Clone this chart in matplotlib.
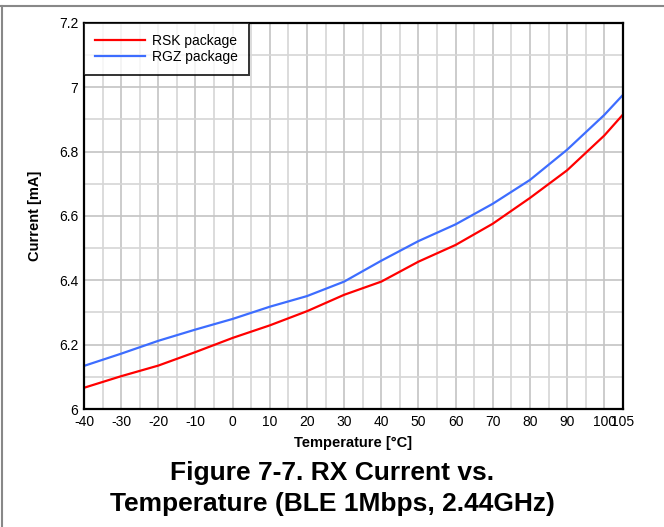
import matplotlib.pyplot as plt
from matplotlib.lines import Line2D

plt.rcParams['font.family'] = ['Liberation Sans', 'DejaVu Sans']
plt.rcParams['axes.unicode_minus'] = False

temps = [-40, -30, -20, -10, 0, 10, 20, 30, 40, 50, 60, 70, 80, 90, 100, 105]
rsk = [6.066, 6.102, 6.135, 6.177, 6.221, 6.260, 6.304, 6.355, 6.396, 6.458,
       6.510, 6.576, 6.656, 6.742, 6.850, 6.915]
rgz = [6.134, 6.172, 6.212, 6.247, 6.280, 6.318, 6.351, 6.396, 6.461, 6.522,
       6.574, 6.638, 6.712, 6.806, 6.914, 6.976]
xticks = [-40, -30, -20, -10, 0, 10, 20, 30, 40, 50, 60, 70, 80, 90, 100, 105]
yticks = [6, 6.2, 6.4, 6.6, 6.8, 7, 7.2]
ylabels = ['6', '6.2', '6.4', '6.6', '6.8', '7', '7.2']

fig = plt.figure(figsize=(6.64, 5.27), dpi=100)
ax = fig.add_axes([0.1265, 0.2239, 0.8115, 0.7325])

# minor / major grid
for x in range(-40, 106, 5):
    c = '#c4c4c4' if x % 10 == 0 else '#d6d6d6'
    ax.axvline(x, color=c, lw=1.2, zorder=0)
for i in range(13):
    y = 6 + i * 0.1
    c = '#c4c4c4' if i % 2 == 0 else '#d6d6d6'
    ax.axhline(y, color=c, lw=1.2, zorder=0)

ax.plot(temps, rsk, color='#ff0000', lw=1.6, label='RSK package')
ax.plot(temps, rgz, color='#3d6dff', lw=1.6, label='RGZ package')

ax.set_xlim(-40, 105)
ax.set_ylim(6, 7.2)
ax.set_xticks(xticks)
ax.set_yticks(yticks)
ax.set_yticklabels(ylabels)
ax.tick_params(length=0, labelsize=10, pad=4)
for s in ax.spines.values():
    s.set_linewidth(1.6)
    s.set_color('black')

ax.set_xlabel('Temperature [°C]', fontsize=10.5, fontweight='bold', labelpad=5)
ax.set_ylabel('Current [mA]', fontsize=10.5, fontweight='bold', labelpad=12)

leg = ax.legend(loc='upper left', fontsize=10, frameon=True, fancybox=False,
                handlelength=3.6, borderaxespad=0, borderpad=0.8,
                labelspacing=0.15, handletextpad=0.5)
leg.get_frame().set_edgecolor('black')
leg.get_frame().set_linewidth(1.4)

fig.text(0.5, 0.073, 'Figure 7-7. RX Current vs.\nTemperature (BLE 1Mbps, 2.44GHz)',
         ha='center', va='center', fontsize=19, fontweight='bold',
         linespacing=1.38)

# page frame lines (top and left)
fig.add_artist(Line2D([0, 1], [1 - 6 / 527, 1 - 6 / 527], color='#888888', lw=1.5,
                      transform=fig.transFigure))
fig.add_artist(Line2D([1.5 / 664, 1.5 / 664], [0, 1 - 6 / 527], color='#888888', lw=1.5,
                      transform=fig.transFigure))

fig.savefig('out.png', dpi=100)
